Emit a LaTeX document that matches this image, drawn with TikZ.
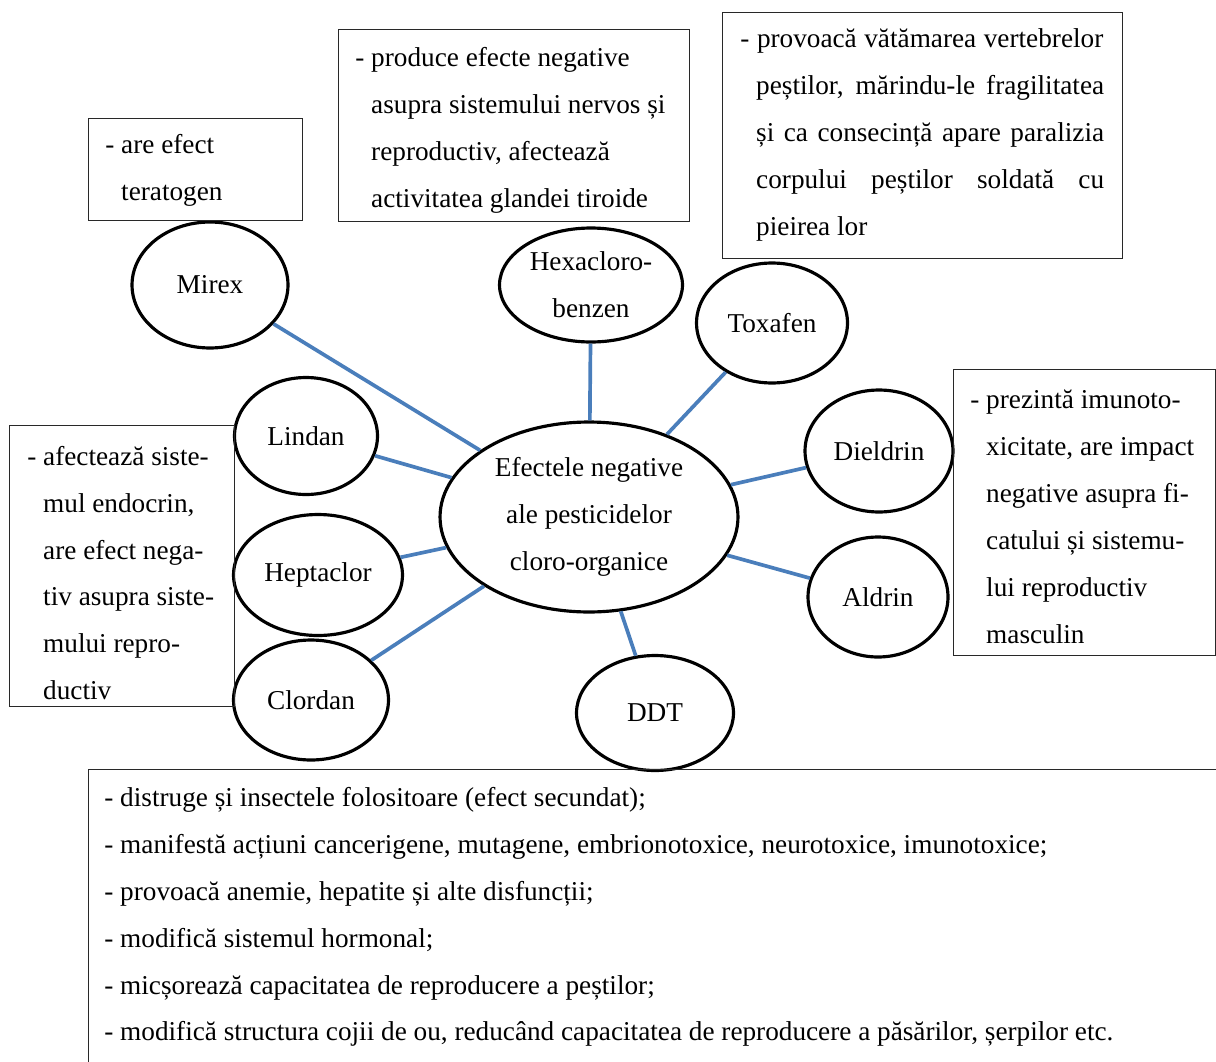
\documentclass[tikz,border=0pt]{standalone}
\usepackage{fontspec}
\setmainfont{Liberation Serif}
\usepackage{tikz}
\usetikzlibrary{shapes.geometric}
\definecolor{linkblue}{RGB}{74,126,187}
\definecolor{boxgray}{RGB}{40,40,40}

\tikzset{
  pest/.style={ellipse, draw, line width=1.8pt, align=center, inner sep=0pt},
  infobox/.style={draw=boxgray, line width=0.7pt, anchor=north west, inner sep=0pt},
  boxtext/.style={anchor=west, align=left, inner sep=0pt},
  link/.style={linkblue, line width=2.1pt}
}

\begin{document}
\begin{tikzpicture}[x=0.02cm, y=-0.02cm, font=\fontsize{15.5}{26.7}\selectfont]
    \useasboundingbox (0,0) rectangle (1216,1061);

    % Central ellipse
    \node[pest, minimum width=5.96cm, minimum height=3.8cm] (efecte) at (589,517)
        {Efectele negative\\ale pesticidelor\\cloro-organice};

    % Pesticides around it
    \node[pest, minimum width=3.12cm, minimum height=2.52cm] (mirex) at (210,285) {Mirex};
    \node[pest, minimum width=3.66cm, minimum height=2.28cm] (hexa) at (591,285) {Hexacloro-\\benzen};
    \node[pest, minimum width=3.02cm, minimum height=2.4cm] (toxafen) at (772,323) {Toxafen};
    \node[pest, minimum width=2.86cm, minimum height=2.34cm] (lindan) at (306,436) {Lindan};
    \node[pest, minimum width=2.96cm, minimum height=2.44cm] (dieldrin) at (879,451) {Dieldrin};
    \node[pest, minimum width=3.38cm, minimum height=2.42cm] (heptaclor) at (318,575) {Heptaclor};
    \node[pest, minimum width=2.8cm, minimum height=2.4cm] (aldrin) at (878,597) {Aldrin};
    \node[pest, minimum width=3.1cm, minimum height=2.4cm] (clordan) at (311,700) {Clordan};
    \node[pest, minimum width=3.14cm, minimum height=2.3cm] (ddt) at (655,713) {DDT};

    % Connectors to the centre
    \draw[link] (mirex) -- (efecte);
    \draw[link] (hexa) -- (efecte);
    \draw[link] (toxafen) -- (efecte);
    \draw[link] (lindan) -- (efecte);
    \draw[link] (dieldrin) -- (efecte);
    \draw[link] (heptaclor) -- (efecte);
    \draw[link] (aldrin) -- (efecte);
    \draw[link] (clordan) -- (efecte);
    \draw[link] (ddt) -- (efecte);

    % Mirex box
    \node[infobox, minimum width=4.28cm, minimum height=2.04cm] (mirexbox) at (88,118) {};
    \node[boxtext] (mirextext) at (105,170) {- are efect\\\phantom{- }teratogen};

    % Hexaclorobenzen box
    \node[infobox, minimum width=7.02cm, minimum height=3.84cm] (hexabox) at (338,29) {};
    \node[boxtext] (hexatext) at (355,130)
        {- produce efecte negative\\
         \phantom{- }asupra sistemului nervos și\\
         \phantom{- }reproductiv, afectează\\
         \phantom{- }activitatea glandei tiroide};

    % Toxafen box
    \node[infobox, minimum width=8cm, minimum height=4.92cm] (toxbox) at (722,12) {};
    \node[boxtext] (toxtext) at (740,135)
        {\makebox[7.26cm][s]{- provoacă vătămarea vertebrelor}\\
         \phantom{- }\makebox[6.96cm][s]{peștilor, mărindu-le fragilitatea}\\
         \phantom{- }\makebox[6.96cm][s]{și ca consecință apare paralizia}\\
         \phantom{- }\makebox[6.96cm][s]{corpului peștilor soldată cu}\\
         \phantom{- }pieirea lor};

    % Dieldrin / Aldrin box
    \node[infobox, minimum width=5.24cm, minimum height=5.72cm] (rightbox) at (953,369) {};
    \node[boxtext] (righttext) at (970,517)
        {- prezintă imunoto-\\
         \phantom{- }xicitate, are impact\\
         \phantom{- }negative asupra fi-\\
         \phantom{- }catului și sistemu-\\
         \phantom{- }lui reproductiv\\
         \phantom{- }masculin};

    % Lindan / Heptaclor / Clordan box
    \node[infobox, minimum width=4.5cm, minimum height=5.62cm] (leftbox) at (9,425) {};
    \node[boxtext] (lefttext) at (27,573)
        {- afectează siste-\\
         \phantom{- }mul endocrin,\\
         \phantom{- }are efect nega-\\
         \phantom{- }tiv asupra siste-\\
         \phantom{- }mului repro-\\
         \phantom{- }ductiv};

    % DDT box (runs off the page)
    \begin{scope}
        \clip (0,0) rectangle (1216,1061);
        \node[infobox, minimum width=23cm, minimum height=6.2cm] (ddtbox) at (88,769) {};
    \end{scope}
    \node[boxtext] (ddttext) at (104,917)
        {- distruge și insectele folositoare (efect secundat);\\
         - manifestă acțiuni cancerigene, mutagene, embrionotoxice, neurotoxice, imunotoxice;\\
         - provoacă anemie, hepatite și alte disfuncții;\\
         - modifică sistemul hormonal;\\
         - micșorează capacitatea de reproducere a peștilor;\\
         - modifică structura cojii de ou, reducând capacitatea de reproducere a păsărilor, șerpilor etc.};

\end{tikzpicture}
\end{document}
